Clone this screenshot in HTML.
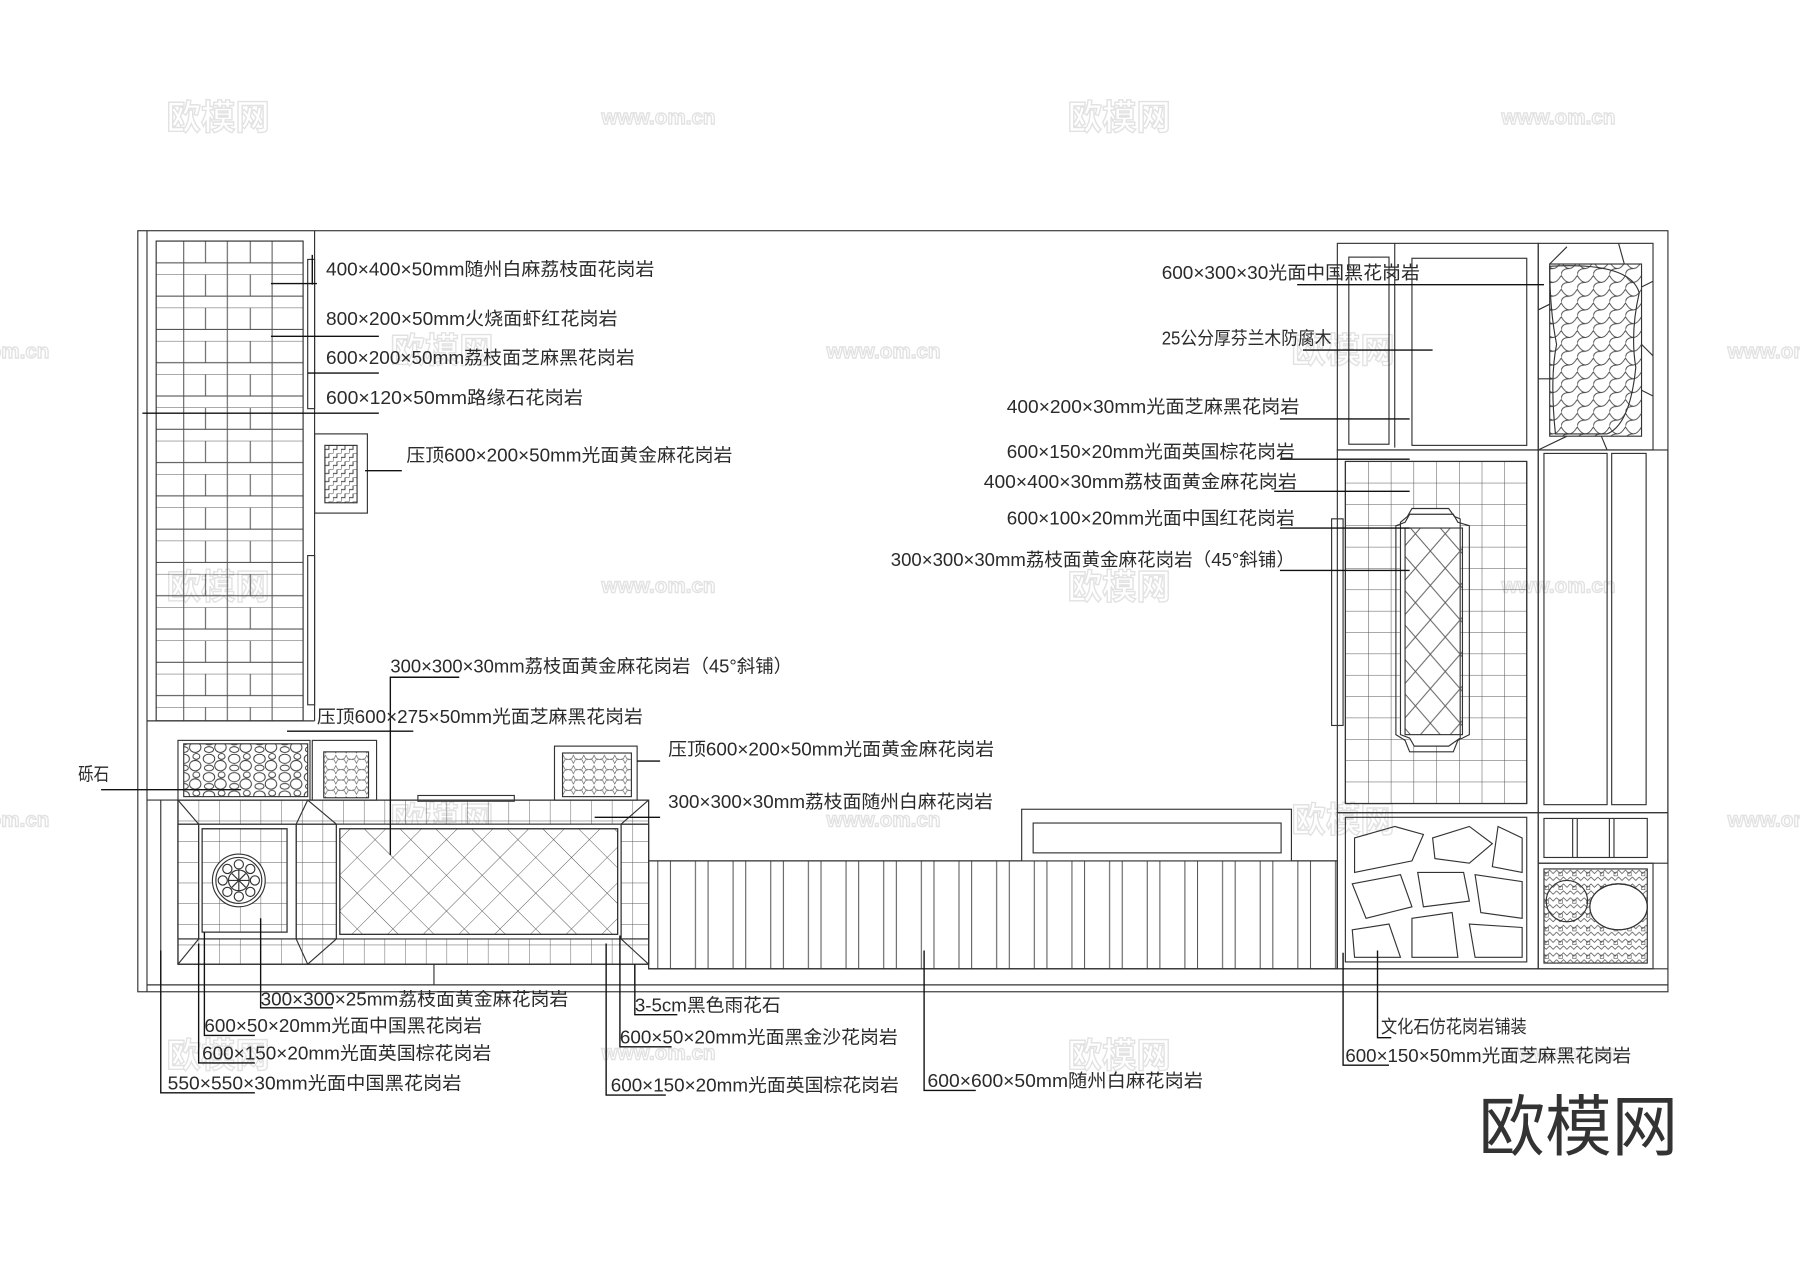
<!DOCTYPE html>
<html><head><meta charset="utf-8"><style>
html,body{margin:0;padding:0;background:#fff;width:1800px;height:1273px;overflow:hidden}
svg{display:block}
.t{font-family:"Liberation Sans","Noto Sans CJK SC",sans-serif;font-size:16px;fill:#2a2a2a}
.wm{font-family:"Liberation Sans","Noto Sans CJK SC",sans-serif;font-weight:bold;fill:none;stroke:#e2e2e2;stroke-width:1.2}
</style></head><body>
<svg width="1800" height="1273" viewBox="0 0 1568 1109" xmlns="http://www.w3.org/2000/svg">
<defs>
<pattern id="brick" x="136" y="210" width="128" height="29" patternUnits="userSpaceOnUse">
<path d="M0 0H128M0 19H128M24 0V19M43 0V19M62 0V19M82 0V19M101 0V19M24 19V29M62 19V29M101 19V29" stroke="#555" stroke-width="0.9" fill="none"/>
</pattern>
<pattern id="grid" x="1172" y="402" width="19.8" height="18.6" patternUnits="userSpaceOnUse">
<path d="M0 0H20M0 0V19" stroke="#555" stroke-width="0.9" fill="none"/>
</pattern>
<pattern id="diam" width="22" height="22" patternUnits="userSpaceOnUse" patternTransform="rotate(45)">
<path d="M0 0H22M0 0V22" stroke="#555" stroke-width="0.8" fill="none"/>
</pattern>
<pattern id="diam2" x="1220" y="450" width="26" height="30" patternUnits="userSpaceOnUse">
<path d="M0 0L26 30M26 0L0 30" stroke="#555" stroke-width="0.8" fill="none"/>
</pattern>
<pattern id="sq" x="155" y="697" width="18" height="18" patternUnits="userSpaceOnUse">
<path d="M0 0H18M0 0V18" stroke="#555" stroke-width="0.8" fill="none"/>
</pattern>
<pattern id="wood" x="565" width="32.8" height="200" patternUnits="userSpaceOnUse">
<path d="M8 0V200M19 0V200" stroke="#555" stroke-width="0.9"/>
</pattern>
<pattern id="star" width="9" height="9" patternUnits="userSpaceOnUse">
<path d="M4.5 1L6 4L9 4.5L6 5L4.5 8L3 5L0 4.5L3 4Z" stroke="#444" stroke-width="0.5" fill="none"/>
</pattern>
<pattern id="peb" width="22" height="16" patternUnits="userSpaceOnUse">
<ellipse cx="6" cy="5" rx="5" ry="4" stroke="#333" fill="none" stroke-width="0.8"/>
<ellipse cx="16" cy="11" rx="5" ry="4.5" stroke="#333" fill="none" stroke-width="0.8"/>
<ellipse cx="17" cy="3" rx="3" ry="2.5" stroke="#333" fill="none" stroke-width="0.8"/>
<ellipse cx="6" cy="13" rx="4" ry="2.5" stroke="#333" fill="none" stroke-width="0.8"/>
</pattern>
<pattern id="scale" x="1360" y="240" width="14" height="12" patternUnits="userSpaceOnUse">
<path d="M0 0Q7 12 14 0M7 6Q0 6 0 12" stroke="#444" fill="none" stroke-width="0.8"/>
</pattern>
<pattern id="zig" width="12" height="12" patternUnits="userSpaceOnUse">
<path d="M0 2L3 5L6 2L9 5L12 2M0 8L3 11L6 8L9 11L12 8" stroke="#444" fill="none" stroke-width="0.6"/>
<rect x="2" y="4" width="3" height="3" stroke="#444" fill="none" stroke-width="0.5"/>
</pattern>
<pattern id="stair" x="283" y="388" width="7" height="7" patternUnits="userSpaceOnUse">
<path d="M0 7V3.5H3.5V0H7" stroke="#333" fill="none" stroke-width="0.8"/>
</pattern>
</defs>

<g class="wm">
<text x="145" y="113" font-size="30">欧模网</text>
<text x="930" y="113" font-size="30">欧模网</text>
<text x="340" y="316" font-size="30">欧模网</text>
<text x="1125" y="316" font-size="30">欧模网</text>
<text x="145" y="522" font-size="30">欧模网</text>
<text x="930" y="522" font-size="30">欧模网</text>
<text x="340" y="725" font-size="30">欧模网</text>
<text x="1125" y="725" font-size="30">欧模网</text>
<text x="145" y="930" font-size="30">欧模网</text>
<text x="930" y="930" font-size="30">欧模网</text>
<text x="524" y="108" font-size="18">www.om.cn</text>
<text x="1308" y="108" font-size="18">www.om.cn</text>
<text x="720" y="312" font-size="18">www.om.cn</text>
<text x="1505" y="312" font-size="18">www.om.cn</text>
<text x="-10" y="312" font-size="18">om.cn</text>
<text x="524" y="516" font-size="18">www.om.cn</text>
<text x="1308" y="516" font-size="18">www.om.cn</text>
<text x="720" y="720" font-size="18">www.om.cn</text>
<text x="1505" y="720" font-size="18">www.om.cn</text>
<text x="-10" y="720" font-size="18">om.cn</text>
<text x="524" y="923" font-size="18">www.om.cn</text>
<text x="1308" y="923" font-size="18">www.om.cn</text>
</g>
<text x="1288" y="1002" style="font-family:'Noto Sans CJK SC',sans-serif;font-size:58px;fill:#333">欧模网</text>

<g stroke="#333" stroke-width="1" fill="none">
<rect x="120" y="201" width="1333" height="663"/>
<line x1="128" y1="201" x2="128" y2="864"/>
<line x1="128" y1="858" x2="1453" y2="858"/>
<line x1="274" y1="201" x2="274" y2="628"/>
<line x1="128" y1="628" x2="274" y2="628"/>
<line x1="128" y1="697" x2="155" y2="697"/>
<line x1="155" y1="697" x2="155" y2="840"/>
<line x1="140" y1="697" x2="140" y2="858"/>
<rect x="136" y="210" width="128" height="418" fill="url(#brick)"/>
<rect x="268" y="226" width="6" height="130"/>
<rect x="268" y="484" width="6" height="130"/>
<rect x="274" y="378" width="46" height="69"/>
<rect x="283" y="388" width="28" height="50" fill="url(#stair)"/>
<rect x="155" y="645" width="115" height="52"/>
<rect x="160" y="648" width="108" height="46" fill="url(#peb)"/>
<rect x="272" y="645" width="56" height="52"/>
<rect x="282" y="655" width="39" height="40" fill="url(#star)"/>
<rect x="483" y="650" width="72" height="47"/>
<rect x="490" y="656" width="60" height="38" fill="url(#star)"/>
<rect x="364" y="693" width="84" height="5"/>
<rect x="155" y="697" width="410" height="143" fill="url(#sq)"/>
<rect x="155" y="718" width="410" height="100" fill="#fff" stroke="none"/>
<rect x="155" y="697" width="410" height="143"/>
<line x1="155" y1="718" x2="565" y2="718"/>
<line x1="155" y1="818" x2="565" y2="818"/>
<rect x="155" y="718" width="18" height="100" fill="url(#sq)"/>
<rect x="258" y="718" width="35" height="100" fill="url(#sq)"/>
<rect x="541" y="718" width="24" height="100" fill="url(#sq)"/>
<path d="M155 697L173 718M155 840L173 818M258 718L268 697L293 718M258 818L268 840L293 818M541 718L565 697M541 818L565 840"/>
<rect x="173" y="718" width="85" height="100"/>
<rect x="176" y="722" width="74" height="90" fill="url(#sq)"/>
<rect x="176" y="722" width="74" height="90"/>
<circle cx="208" cy="767" r="23" fill="#fff"/>
<circle cx="208" cy="767" r="20"/>
<circle cx="208" cy="767" r="9"/>
<path d="M208 758V776M199 767H217M202 761L214 773M214 761L202 773"/>
<g>
<circle cx="208" cy="753" r="4"/><circle cx="218" cy="757" r="4"/><circle cx="222" cy="767" r="4"/><circle cx="218" cy="777" r="4"/><circle cx="208" cy="781" r="4"/><circle cx="198" cy="777" r="4"/><circle cx="194" cy="767" r="4"/><circle cx="198" cy="757" r="4"/>
</g>
<rect x="293" y="718" width="248" height="100" fill="#fff"/>
<rect x="296" y="722" width="242" height="92" fill="url(#diam)"/>
<rect x="296" y="722" width="242" height="92"/>
<line x1="155" y1="840" x2="565" y2="840"/>
<line x1="378" y1="840" x2="378" y2="858"/>
<line x1="553" y1="840" x2="553" y2="858"/>
<rect x="565" y="750" width="600" height="94" fill="url(#wood)"/>
<rect x="565" y="750" width="600" height="94"/>
<rect x="890" y="705" width="235" height="45" fill="#fff"/>
<rect x="900" y="717" width="216" height="26"/>
<line x1="565" y1="844" x2="1165" y2="844"/>
<rect x="1165" y="212" width="175" height="180"/>
<line x1="1215" y1="212" x2="1215" y2="390"/>
<rect x="1175" y="224" width="35" height="163"/>
<rect x="1230" y="225" width="100" height="163"/>
<rect x="1340" y="212" width="100" height="180"/>
<rect x="1350" y="230" width="80" height="150" fill="url(#scale)"/>
<path d="M1350 230L1365 215M1410 212L1415 230M1430 250L1440 245M1430 300L1440 310M1340 330L1352 330M1340 392L1365 380M1395 380L1400 392M1350 265L1340 270M1430 340L1440 345"/>
<path d="M1350 232Q1420 228 1428 255Q1420 290 1425 320Q1420 370 1400 378L1355 378Q1350 330 1356 300Q1350 270 1350 232Z"/>
<rect x="1165" y="392" width="175" height="316"/>
<rect x="1172" y="402" width="158" height="298" fill="url(#grid)"/>
<rect x="1172" y="402" width="158" height="298"/>
<rect x="1160" y="452" width="10" height="180"/>
<path d="M1230 443H1262L1267 450L1272 452V643L1262 650H1232L1228 643L1220 640V455L1226 450Z" fill="#fff"/>
<rect x="1224" y="460" width="50" height="180" fill="url(#diam2)"/>
<path d="M1228 448H1266L1270 455L1280 458V640L1270 645L1266 655H1228L1224 645L1216 640V458L1224 455Z"/>
<rect x="1340" y="392" width="113" height="316"/>
<rect x="1345" y="395" width="55" height="306"/>
<rect x="1404" y="395" width="30" height="306"/>
<rect x="1165" y="708" width="175" height="136"/>
<rect x="1172" y="712" width="158" height="126"/>
<g>
<path d="M1180 730L1215 720L1240 727L1230 750L1180 760Z"/>
<path d="M1248 730L1280 720L1300 735L1280 752L1250 748Z"/>
<path d="M1305 720L1326 730L1326 760L1300 755Z"/>
<path d="M1178 770L1220 762L1230 790L1190 800Z"/>
<path d="M1235 760L1275 760L1280 785L1240 790Z"/>
<path d="M1285 762L1326 768L1326 800L1290 795Z"/>
<path d="M1178 810L1210 805L1220 834L1180 834Z"/>
<path d="M1230 800L1265 795L1270 834L1230 834Z"/>
<path d="M1280 805L1326 808L1326 834L1285 834Z"/>
</g>
<rect x="1340" y="708" width="113" height="44"/>
<rect x="1345" y="713" width="90" height="34"/>
<path d="M1370 713V747M1374 713V747M1402 713V747M1406 713V747"/>
<rect x="1340" y="752" width="100" height="92"/>
<rect x="1345" y="757" width="90" height="82" fill="url(#zig)"/>
<ellipse cx="1410" cy="790" rx="25" ry="20" fill="#fff"/>
<ellipse cx="1410" cy="790" rx="25" ry="20"/>
<circle cx="1365" cy="785" r="18"/>
<line x1="1165" y1="844" x2="1453" y2="844"/>
</g>

<g stroke="#111" stroke-width="1.2" fill="none">
<path d="M236 247H276M272 222V248"/>
<path d="M236 293H330"/>
<path d="M268 325H330"/>
<path d="M124 360H330"/>
<path d="M318 410H350"/>
<path d="M340 745V590H400"/>
<path d="M250 637H360"/>
<path d="M88 688H210"/>
<path d="M555 663H575"/>
<path d="M518 712H575"/>
<path d="M227 800V878H290"/>
<path d="M178 812V902H222"/>
<path d="M173 822V926H222"/>
<path d="M140 828V952H222"/>
<path d="M553 840V884H590"/>
<path d="M540 815V912H585"/>
<path d="M528 822V954H580"/>
<path d="M805 828V950H850"/>
<path d="M1200 828V904H1212"/>
<path d="M1170 830V928H1210"/>
<path d="M1130 248H1345"/>
<path d="M1135 305H1248"/>
<path d="M1115 365H1228"/>
<path d="M1115 400H1228"/>
<path d="M1110 428H1228"/>
<path d="M1115 460H1228"/>
<path d="M1115 497H1228"/>
</g>

<g class="t">
<text x="284" y="240" textLength="286" lengthAdjust="spacingAndGlyphs">400×400×50mm随州白麻荔枝面花岗岩</text>
<text x="284" y="283" textLength="254" lengthAdjust="spacingAndGlyphs">800×200×50mm火烧面虾红花岗岩</text>
<text x="284" y="317" textLength="269" lengthAdjust="spacingAndGlyphs">600×200×50mm荔枝面芝麻黑花岗岩</text>
<text x="284" y="352" textLength="224" lengthAdjust="spacingAndGlyphs">600×120×50mm路缘石花岗岩</text>
<text x="354" y="402" textLength="284" lengthAdjust="spacingAndGlyphs">压顶600×200×50mm光面黄金麻花岗岩</text>
<text x="340" y="586" textLength="350" lengthAdjust="spacingAndGlyphs">300×300×30mm荔枝面黄金麻花岗岩（45°斜铺）</text>
<text x="276" y="630" textLength="284" lengthAdjust="spacingAndGlyphs">压顶600×275×50mm光面芝麻黑花岗岩</text>
<text x="68" y="680" textLength="27" lengthAdjust="spacingAndGlyphs">砾石</text>
<text x="582" y="658" textLength="284" lengthAdjust="spacingAndGlyphs">压顶600×200×50mm光面黄金麻花岗岩</text>
<text x="582" y="704" textLength="283" lengthAdjust="spacingAndGlyphs">300×300×30mm荔枝面随州白麻花岗岩</text>
<text x="227" y="876" textLength="268" lengthAdjust="spacingAndGlyphs">300×300×25mm荔枝面黄金麻花岗岩</text>
<text x="178" y="899" textLength="242" lengthAdjust="spacingAndGlyphs">600×50×20mm光面中国黑花岗岩</text>
<text x="176" y="923" textLength="252" lengthAdjust="spacingAndGlyphs">600×150×20mm光面英国棕花岗岩</text>
<text x="146" y="949" textLength="256" lengthAdjust="spacingAndGlyphs">550×550×30mm光面中国黑花岗岩</text>
<text x="553" y="881" textLength="127" lengthAdjust="spacingAndGlyphs">3-5cm黑色雨花石</text>
<text x="540" y="909" textLength="242" lengthAdjust="spacingAndGlyphs">600×50×20mm光面黑金沙花岗岩</text>
<text x="532" y="951" textLength="251" lengthAdjust="spacingAndGlyphs">600×150×20mm光面英国棕花岗岩</text>
<text x="808" y="947" textLength="240" lengthAdjust="spacingAndGlyphs">600×600×50mm随州白麻花岗岩</text>
<text x="1203" y="900" textLength="127" lengthAdjust="spacingAndGlyphs">文化石仿花岗岩铺装</text>
<text x="1172" y="925" textLength="249" lengthAdjust="spacingAndGlyphs">600×150×50mm光面芝麻黑花岗岩</text>
<text x="1012" y="243" textLength="225" lengthAdjust="spacingAndGlyphs">600×300×30光面中国黑花岗岩</text>
<text x="1012" y="300" textLength="148" lengthAdjust="spacingAndGlyphs">25公分厚芬兰木防腐木</text>
<text x="877" y="360" textLength="255" lengthAdjust="spacingAndGlyphs">400×200×30mm光面芝麻黑花岗岩</text>
<text x="877" y="399" textLength="251" lengthAdjust="spacingAndGlyphs">600×150×20mm光面英国棕花岗岩</text>
<text x="857" y="425" textLength="273" lengthAdjust="spacingAndGlyphs">400×400×30mm荔枝面黄金麻花岗岩</text>
<text x="877" y="457" textLength="251" lengthAdjust="spacingAndGlyphs">600×100×20mm光面中国红花岗岩</text>
<text x="776" y="493" textLength="352" lengthAdjust="spacingAndGlyphs">300×300×30mm荔枝面黄金麻花岗岩（45°斜铺）</text>
</g>
</svg>
</body></html>
